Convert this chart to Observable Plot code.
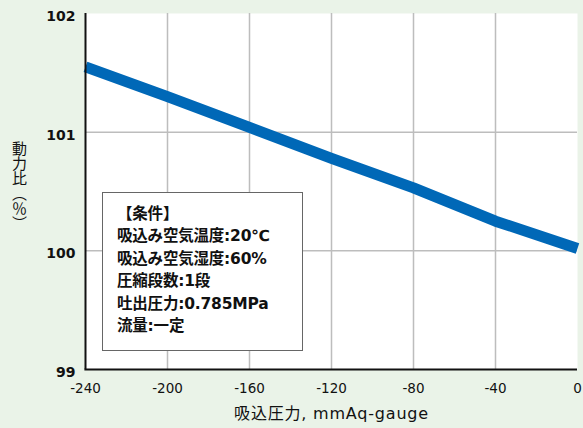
<!DOCTYPE html>
<html>
<head>
<meta charset="utf-8">
<script src="https://cdn.jsdelivr.net/npm/d3@7"></script>
<script src="https://cdn.jsdelivr.net/npm/@observablehq/plot@0.6"></script>
<style>
  html, body { margin: 0; padding: 0; background: #eaf3e8; }
  #wrap { position: relative; width: 583px; height: 428px; font-family: "DejaVu Sans", "Noto Sans CJK JP", sans-serif; }
  #cond { position: absolute; left: 102px; top: 192px; width: 201px; height: 159px; background: #fff;
          border: 1.5px solid #666; box-sizing: border-box; padding: 10px 0 0 14px;
          font-size: 15.5px; line-height: 22.4px; color: #111; font-weight: bold; letter-spacing: -0.2px; }
  #ylab { position: absolute; left: 10px; top: 141px; writing-mode: vertical-rl; text-orientation: mixed;
          font-family: "Noto Sans CJK JP", sans-serif; font-size: 15px; line-height: 18px; color: #111; }
</style>
</head>
<body>
<div id="wrap"></div>
<script>
const pressure = [-240, -200, -160, -120, -80, -40, 0];
const powerRatio = [101.55, 101.30, 101.04, 100.78, 100.53, 100.25, 100.02];
const xTicks = [-240, -200, -160, -120, -80, -40, 0];
const yTicks = [99, 100, 101, 102];
const xGrid = [-200, -160, -120, -80, -40];
const yGrid = [100, 101];
const conditions = ["【条件】", "吸込み空気温度:20℃", "吸込み空気湿度:60%", "圧縮段数:1段", "吐出圧力:0.785MPa", "流量:一定"];
const xLabel = "吸込圧力, mmAq-gauge";
const yLabel = "動力比（％）";

const data = pressure.map((p, i) => ({p, v: powerRatio[i]}));

const plot = Plot.plot({
  width: 583,
  height: 428,
  marginLeft: 85,
  marginRight: 6,
  marginTop: 13,
  marginBottom: 59,
  style: {background: "transparent", fontFamily: "'DejaVu Sans', 'Noto Sans CJK JP', sans-serif", color: "#111"},
  x: {domain: [-240, 0]},
  y: {domain: [99, 102]},
  marks: [
    Plot.frame({fill: "white", stroke: "none"}),
    Plot.ruleX(xGrid, {stroke: "#bdbdbd", strokeWidth: 1.5}),
    Plot.ruleY(yGrid, {stroke: "#bdbdbd", strokeWidth: 1.5}),
    Plot.line(data, {x: "p", y: "v", stroke: "#0068b7", strokeWidth: 11, strokeLinecap: "butt", strokeLinejoin: "round"}),
    Plot.ruleX([-240], {stroke: "#111", strokeWidth: 2}),
    Plot.ruleY([99], {stroke: "#111", strokeWidth: 2, x1: -240.3, x2: 0}),
    Plot.axisX(xTicks, {tickSize: 0, tickPadding: 14, fontSize: 13.5, label: xLabel, labelAnchor: "center", labelOffset: 49, labelArrow: "none", tickFormat: d => d === 0 ? "0" : String(d)}),
    Plot.axisY(yTicks, {tickSize: 0, tickPadding: 10, fontSize: 14, fontWeight: "bold", dy: 3, label: null, tickFormat: d3.format("d")})
  ]
});

document.getElementById("wrap").appendChild(plot);

d3.select(plot).selectAll("[aria-label='x-axis label'] text")
  .style("font-size", "16px").style("letter-spacing", "0.8px");

const ylab = document.createElement("div");
ylab.id = "ylab";
ylab.textContent = yLabel;
document.getElementById("wrap").appendChild(ylab);

const box = document.createElement("div");
box.id = "cond";
box.innerHTML = conditions.map(s => `<div>${s}</div>`).join("");
document.getElementById("wrap").appendChild(box);
</script>
</body>
</html>
